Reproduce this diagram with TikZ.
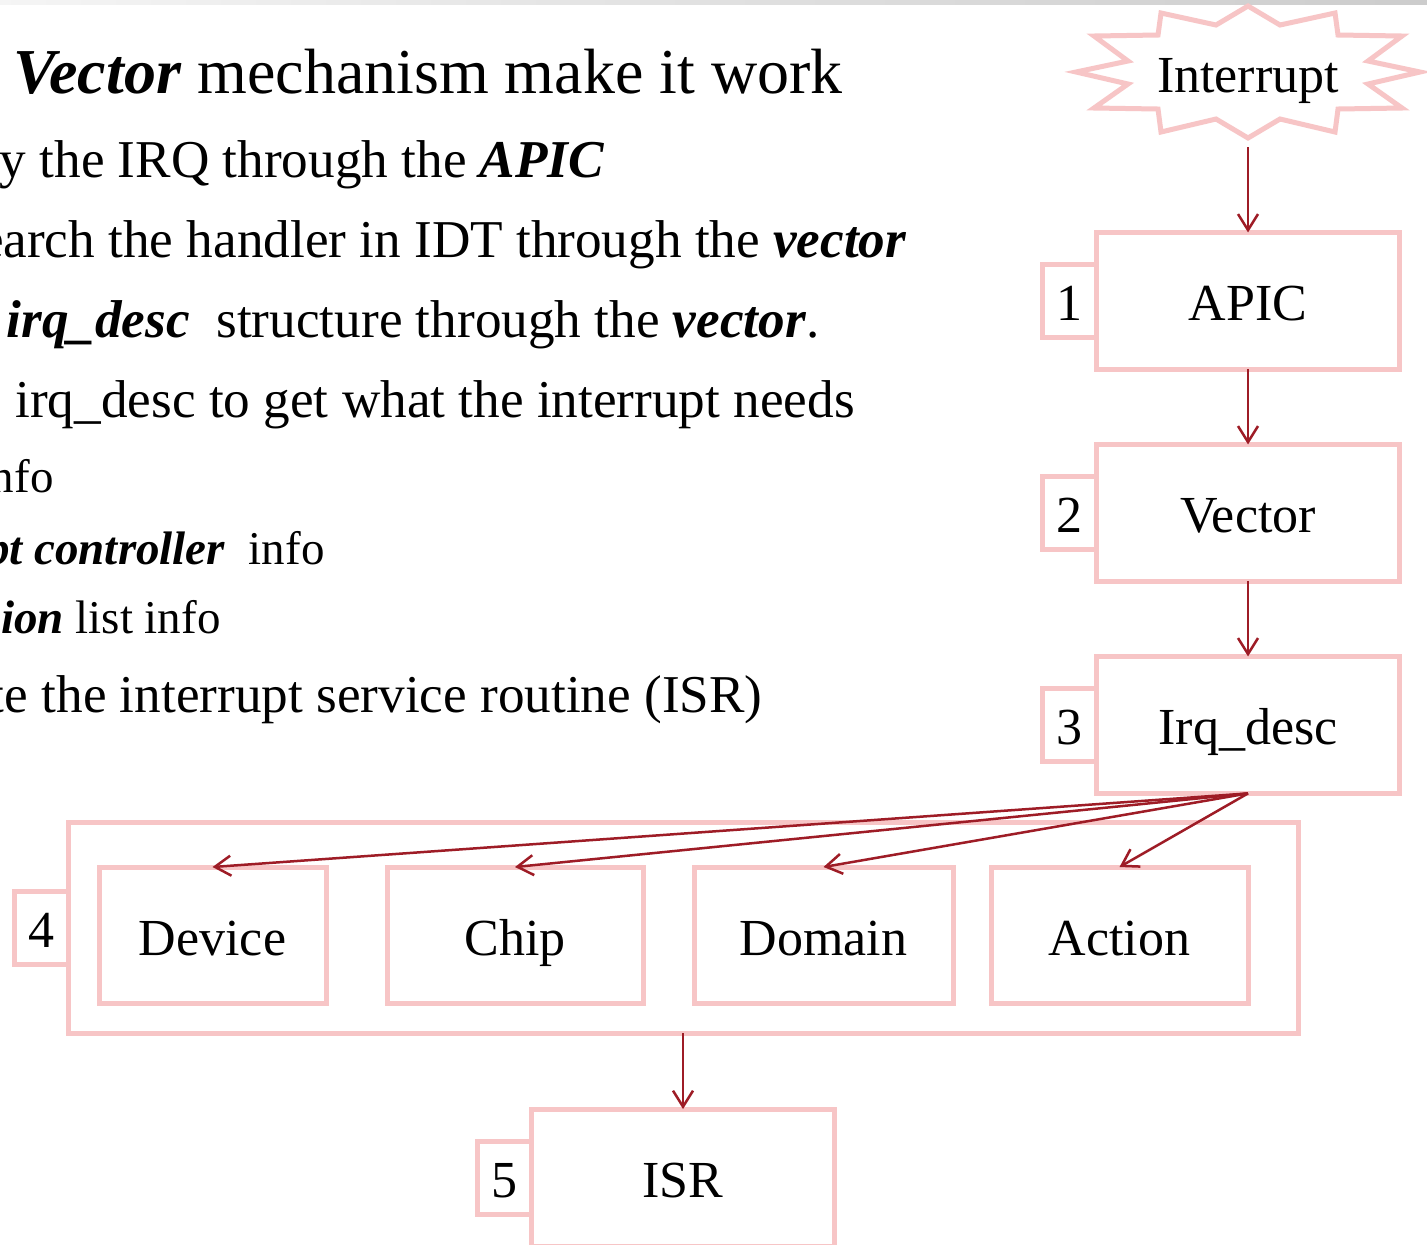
\documentclass[tikz,border=0pt]{standalone}
\usepackage{fontspec}
\setmainfont{Liberation Serif}
\usetikzlibrary{positioning}
\usetikzlibrary{arrows.meta}

\definecolor{boxpink}{RGB}{247,197,198}
\definecolor{arrred}{RGB}{158,28,38}

\tikzset{
  lbl/.style={font=\fontsize{26}{30}\selectfont, text height=20pt, text depth=0pt},
  box/.style={lbl, draw=boxpink, line width=2.5pt, fill=white, inner sep=0pt,
    outer sep=0pt, minimum width=151.5pt, minimum height=68.5pt},
  numtab/.style={box, minimum width=27pt, minimum height=36.5pt},
  partbox/.style={box, minimum height=68pt},
  flow/.style={draw=arrred, line width=1.25pt,
    -{Straight Barb[length=8pt,width=10pt]}},
  bodytxt/.style={anchor=base east, inner sep=0pt, font=\fontsize{26.6}{31}\selectfont},
  subtxt/.style={bodytxt, font=\fontsize{23.5}{28}\selectfont},
  titletxt/.style={bodytxt, font=\fontsize{32}{37}\selectfont}
}
\newcommand{\bi}[1]{\textbf{\textit{#1}}}

\begin{document}
\begin{tikzpicture}[x=0.5pt, y=-0.5pt]
    \useasboundingbox (0,0) rectangle (1427,1244);
    \clip (0,0) rectangle (1427,1244);
    \fill[white] (0,0) rectangle (1427,1244);
    \shade[left color=gray!8, right color=gray!40] (0,0) rectangle (1427,4);

    % Slide text
    \node[titletxt] (ttl) at (843,93) {\bi{Vector} mechanism make it work};
    \node[bodytxt] (l1) at (605,177) {ry the IRQ through the \bi{APIC}};
    \node[bodytxt] (l2) at (907,257) {earch the handler in IDT through the \bi{vector}};
    \node[bodytxt] (l3) at (820,337) {\bi{irq\_desc}\ \ structure through the \bi{vector}.};
    \node[bodytxt] (l4) at (855,417) {e irq\_desc to get what the interrupt needs};
    \node[subtxt] (l5) at (54,492) {nfo};
    \node[subtxt] (l6) at (325,564) {\bi{pt controller}\ \ info};
    \node[subtxt] (l7) at (221,633) {\bi{ion} list info};
    \node[bodytxt] (l8) at (763,712) {te the interrupt service routine (ISR)};

    % Chain
    \node[lbl, minimum width=180pt, minimum height=75pt, inner sep=0pt] (intr) at (1248,72) {Interrupt};
    \draw[boxpink, line width=2.5pt, line join=miter, shift={(intr.center)}]
      (0,-66) -- (32,-47) -- (87,-59) -- (90,-37) -- (154,-36) -- (120,-11)
      -- (172,0) -- (120,12) -- (154,36) -- (90,37) -- (87,60) -- (32,47)
      -- (0,66) -- (-32,47) -- (-87,60) -- (-90,37) -- (-154,36) -- (-120,12)
      -- (-172,0) -- (-120,-11) -- (-154,-36) -- (-90,-37) -- (-87,-59)
      -- (-32,-47) -- cycle;
    \node[box, below=42.5pt of intr] (apic) {APIC};
    \node[numtab, left=0pt of apic] (n1) {1};
    \node[box, below=37.5pt of apic] (vec) {Vector};
    \node[numtab, left=0pt of vec] (n2) {2};
    \node[box, below=37.5pt of vec] (irq) {Irq\_desc};
    \node[numtab, left=0pt of irq] (n3) {3};

    % Parts of irq_desc
    \node[box, minimum width=615pt, minimum height=105.5pt] (grp) at (683,927.5) {};
    \node[numtab, left=0pt of grp] (n4) {4};
    \node[partbox, minimum width=113.5pt] (dev) at (212.5,935) {Device};
    \node[partbox, minimum width=128pt] (chip) at (515,935) {Chip};
    \node[partbox, minimum width=129.5pt] (dom) at (823.5,935) {Domain};
    \node[partbox, minimum width=128.5pt] (act) at (1119.5,935) {Action};

    \node[box, below=38pt of grp] (isr) {ISR};
    \node[numtab, left=0pt of isr] (n5) {5};

    % Edges
    \draw[flow] (intr.south) -- (apic.north);
    \draw[flow] (apic.south) -- (vec.north);
    \draw[flow] (vec.south) -- (irq.north);
    \foreach \p in {dev,chip,dom,act}
      \draw[flow] (irq.south) -- (\p.north);
    \draw[flow] (grp.south) -- (isr.north);
\end{tikzpicture}
\end{document}
